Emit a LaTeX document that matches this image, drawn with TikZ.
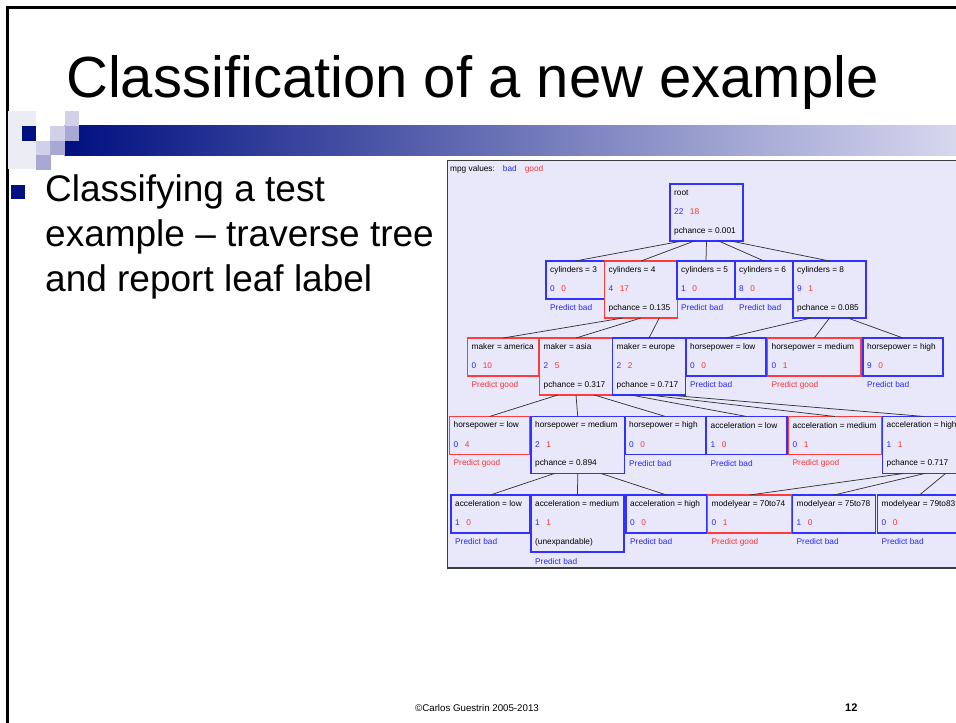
\documentclass[tikz,border=0pt]{standalone}
\usepackage{fontspec}
\setmainfont{Liberation Sans}
\usetikzlibrary{calc}

\definecolor{navy}{RGB}{0,16,128}
\definecolor{barend}{RGB}{215,215,238}
\definecolor{sqlight}{RGB}{208,208,232}
\definecolor{sqmid}{RGB}{168,168,212}
\definecolor{sqpale}{RGB}{236,236,244}
\definecolor{panelbg}{RGB}{232,232,250}
\definecolor{panelrule}{RGB}{60,60,60}
\definecolor{tblue}{RGB}{40,40,255}
\definecolor{tred}{RGB}{255,50,50}
\definecolor{bblue}{RGB}{50,50,255}
\definecolor{bred}{RGB}{255,60,60}
\definecolor{edgegray}{RGB}{55,55,55}

\tikzset{
  tbox/.style={draw=#1, line width=1.05pt, fill=panelbg, inner sep=0pt, outer sep=0pt, anchor=north west},
  ttext/.style={font=\fontsize{8.3}{10}\selectfont, inner sep=0pt, anchor=west},
  treeedge/.style={draw=edgegray, line width=0.75pt},
  bullettext/.style={font=\fontsize{37}{40}\selectfont, inner sep=0pt, anchor=base west},
  deco/.style={inner sep=0pt, minimum size=14.5pt, anchor=north west},
}

% two-row box: name, left, top, width, colour, label, bad count, good count
\newcommand\treenode[8]{%
  \node[tbox=#5, minimum width=#4, minimum height=38] (#1) at (#2,#3) {};
  \node[ttext] (#1-lab) at ($(#1.north west)+(4,9)$) {#6};
  \node[ttext] (#1-cnt) at ($(#1.north west)+(4,28)$) {\textcolor{tblue}{#7}\hspace{6.5pt}\textcolor{tred}{#8}};
}
% three-row box: same plus a third line
\newcommand\treesplit[9]{%
  \node[tbox=#5, minimum width=#4, minimum height=57] (#1) at (#2,#3) {};
  \node[ttext] (#1-lab) at ($(#1.north west)+(4,9)$) {#6};
  \node[ttext] (#1-cnt) at ($(#1.north west)+(4,28)$) {\textcolor{tblue}{#7}\hspace{6.5pt}\textcolor{tred}{#8}};
  \node[ttext] (#1-note) at ($(#1.north west)+(4,47)$) {#9};
}
% prediction under a box: name, colour, text, vertical offset from top
\newcommand\predict[4]{%
  \node[ttext, text=#2] (#1-pred) at ($(#1.north west)+(4,#4)$) {#3};
}
% branch from a point along the parent's bottom to the child's top
\newcommand\branch[3]{%
  \draw[treeedge] ($(#1.south west)!#2!(#1.south east)$) -- (#3.north);
}

\begin{document}
\begin{tikzpicture}[x=1pt,y=-1pt]
\useasboundingbox (0,0) rectangle (956,723);
\fill[white] (0,0) rectangle (956,723);

% slide frame
\draw[line width=2.5pt] (7.5,723) -- (7.5,7.5) -- (956,7.5);

% title
\node[anchor=base west, font=\fontsize{58}{62}\selectfont, inner sep=0pt] (title) at (66,97) {Classification of a new example};

% header bar and squares
\shade[left color=navy, right color=barend] (64.5,125) rectangle (956,155);
\fill[sqpale] (8,111) rectangle (36,169);
\node[deco, fill=sqlight] (sq1) at (64.5,111) {};
\node[deco, fill=navy] (sq2) at (21.5,126) {};
\node[deco, fill=sqlight] (sq3) at (50,126) {};
\node[deco, fill=sqmid] (sq4) at (64.5,126) {};
\node[deco, fill=sqlight] (sq5) at (36,140.5) {};
\node[deco, fill=sqmid] (sq6) at (50,140.5) {};
\node[deco, fill=sqmid] (sq7) at (36,155) {};

% bullet
\node[fill=navy, inner sep=0pt, minimum size=14pt, anchor=north west] (bullet) at (11,185) {};
\node[bullettext] (bl1) at (45,201.5) {Classifying a test};
\node[bullettext] (bl2) at (45,246.5) {example -- traverse tree};
\node[bullettext] (bl3) at (45,291.5) {and report leaf label};

% tree panel
\draw[draw=panelrule, fill=panelbg, line width=1.2pt] (447.5,160.5) rectangle (975,568);
\begin{scope}
\clip (448,161) rectangle (956,567.4);
\node[ttext] (mpg) at (450,169) {mpg values:\hspace{8pt}\textcolor{tblue}{bad}\hspace{8pt}\textcolor{tred}{good}};

% level 0
\treesplit{root}{670}{184}{73}{bblue}{root}{22}{18}{pchance = 0.001}
% level 1
\treenode{cyl3}{546}{261}{58.5}{bblue}{cylinders = 3}{0}{0}
\treesplit{cyl4}{604.5}{261}{73}{bred}{cylinders = 4}{4}{17}{pchance = 0.135}
\treenode{cyl5}{677}{261}{58}{bblue}{cylinders = 5}{1}{0}
\treenode{cyl6}{735}{261}{58}{bblue}{cylinders = 6}{8}{0}
\treesplit{cyl8}{793}{261}{73}{bblue}{cylinders = 8}{9}{1}{pchance = 0.085}
\predict{cyl3}{tblue}{Predict bad}{47}
\predict{cyl5}{tblue}{Predict bad}{47}
\predict{cyl6}{tblue}{Predict bad}{47}
% level 2
\treenode{mkam}{467.5}{338}{71.5}{bred}{maker = america}{0}{10}
\treesplit{mkas}{539.5}{338}{73}{bred}{maker = asia}{2}{5}{pchance = 0.317}
\treesplit{mkeu}{612.5}{338}{73}{bblue}{maker = europe}{2}{2}{pchance = 0.717}
\treenode{hpAlow}{686}{338}{80}{bblue}{horsepower = low}{0}{0}
\treenode{hpAmed}{767.5}{338}{93.5}{bred}{horsepower = medium}{0}{1}
\treenode{hpAhigh}{863}{338}{80}{bblue}{horsepower = high}{9}{0}
\predict{mkam}{tred}{Predict good}{47}
\predict{hpAlow}{tblue}{Predict bad}{47}
\predict{hpAmed}{tred}{Predict good}{47}
\predict{hpAhigh}{tblue}{Predict bad}{47}
% level 3
\treenode{hpBlow}{449.5}{416.5}{80}{bred}{horsepower = low}{0}{4}
\treesplit{hpBmed}{531}{416.5}{93.5}{bblue}{horsepower = medium}{2}{1}{pchance = 0.894}
\treenode{hpBhigh}{625}{416.5}{81}{bblue}{horsepower = high}{0}{0}
\treenode{acAlow}{706.5}{416.5}{80.5}{bblue}{acceleration = low}{1}{0}
\treenode{acAmed}{788.5}{416.5}{93}{bred}{acceleration = medium}{0}{1}
\treesplit{acAhigh}{882.5}{416.5}{84}{bblue}{acceleration = high}{1}{1}{pchance = 0.717}
\predict{hpBlow}{tred}{Predict good}{47}
\predict{hpBhigh}{tblue}{Predict bad}{47}
\predict{acAlow}{tblue}{Predict bad}{47}
\predict{acAmed}{tred}{Predict good}{47}
% level 4
\treenode{acBlow}{451}{495}{78.5}{bblue}{acceleration = low}{1}{0}
\treesplit{acBmed}{531}{495}{93}{bblue}{acceleration = medium}{1}{1}{(unexpandable)}
\treenode{acBhigh}{626}{495}{81}{bblue}{acceleration = high}{0}{0}
\treenode{my70}{707.5}{495}{84}{bred}{modelyear = 70to74}{0}{1}
\treenode{my75}{792.5}{495}{83}{bblue}{modelyear = 75to78}{1}{0}
\treenode{my79}{877.5}{495}{84}{bblue}{modelyear = 79to83}{0}{0}
\predict{acBlow}{tblue}{Predict bad}{47}
\predict{acBmed}{tblue}{Predict bad}{66.5}
\predict{acBhigh}{tblue}{Predict bad}{47}
\predict{my70}{tred}{Predict good}{47}
\predict{my75}{tblue}{Predict bad}{47}
\predict{my79}{tblue}{Predict bad}{47}

% branches
\branch{root}{0.1667}{cyl3}
\branch{root}{0.3333}{cyl4}
\branch{root}{0.5}{cyl5}
\branch{root}{0.6667}{cyl6}
\branch{root}{0.8333}{cyl8}
\branch{cyl4}{0.25}{mkam}
\branch{cyl4}{0.5}{mkas}
\branch{cyl4}{0.75}{mkeu}
\branch{cyl8}{0.25}{hpAlow}
\branch{cyl8}{0.5}{hpAmed}
\branch{cyl8}{0.75}{hpAhigh}
\branch{mkas}{0.25}{hpBlow}
\branch{mkas}{0.5}{hpBmed}
\branch{mkas}{0.75}{hpBhigh}
\branch{mkeu}{0.25}{acAlow}
\branch{mkeu}{0.5}{acAmed}
\branch{mkeu}{0.75}{acAhigh}
\branch{hpBmed}{0.25}{acBlow}
\branch{hpBmed}{0.5}{acBmed}
\branch{hpBmed}{0.75}{acBhigh}
\branch{acAhigh}{0.25}{my70}
\branch{acAhigh}{0.5}{my75}
\branch{acAhigh}{0.75}{my79}
\end{scope}

% footer
\node[anchor=base west, font=\fontsize{9.7}{11}\selectfont, inner sep=0pt] (credit) at (415,711.5) {\textcopyright Carlos Guestrin 2005-2013};
\node[anchor=base west, font=\fontsize{11}{12}\selectfont\bfseries, inner sep=0pt] (pageno) at (845,711.5) {12};
\end{tikzpicture}
\end{document}
